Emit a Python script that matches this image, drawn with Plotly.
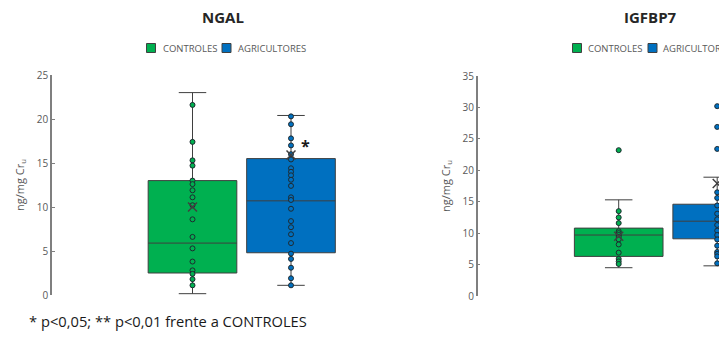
import plotly.graph_objects as go

# ---------------- data ----------------
groups = ["CONTROLES", "AGRICULTORES"]
colors = ["#00B050", "#0070C0"]

# NGAL (ng/mg Cr_u)
ngal_q1 = [2.5, 4.8]
ngal_median = [5.9, 10.7]
ngal_q3 = [13.0, 15.5]
ngal_low = [0.15, 1.1]
ngal_high = [23.0, 20.4]
ngal_mean = [10.0, 15.9]
ngal_pts_ctrl = [21.6, 17.4, 15.3, 14.7, 13.0, 12.6, 11.9, 11.1, 10.2, 8.6,
                 6.6, 5.3, 3.8, 2.8, 2.4, 1.8, 1.1]
ngal_pts_agri = [20.3, 19.4, 17.8, 17.0, 16.0, 15.4, 14.4, 14.0, 13.6, 13.1,
                 12.4, 11.1, 10.8, 9.8, 8.4, 7.7, 6.9, 5.9, 4.7, 4.1, 3.1, 1.9, 1.1]

# IGFBP7 (ng/mg Cr_u)
igf_q1 = [6.3, 9.1]
igf_median = [9.7, 11.9]
igf_q3 = [10.8, 14.6]
igf_low = [4.5, 4.8]
igf_high = [15.3, 18.9]
igf_mean = [9.5, 17.9]
igf_pts_ctrl = [23.2, 13.5, 12.5, 11.6, 10.3, 10.0, 9.7, 9.4, 9.0, 8.2,
                6.9, 5.9, 5.5, 5.1]
igf_pts_agri = [30.2, 26.9, 23.4, 16.5, 15.6, 14.4, 13.1, 12.2, 11.3, 10.4,
                9.7, 9.0, 8.0, 7.0, 6.7, 6.3, 5.2]

titles = ["NGAL", "IGFBP7"]
y_title = "ng/mg Cr<sub>u</sub>"
footnote = "* p<0,05; ** p<0,01 frente a CONTROLES"

# ---------------- layout helpers (pixels) ----------------
OFF = 8                      # default page body margin
FW, FH = 727 - OFF, 339 - OFF
PX_PER_UNIT = 98.5
BOX_W = 0.9

def xp(px):
    return (px - OFF) / FW

def yp(py):
    return 1 - (py - OFF) / FH

def xr(axis_px, center_px, right_px):
    return [(axis_px - center_px) / PX_PER_UNIT, (right_px - center_px) / PX_PER_UNIT]

fig = go.Figure()

AXIS_COLOR = "#7f7f7f"
TXT = "#595959"
LINE_C = "#3f3f3f"
FONT = "Open Sans, Arial"

def add_panel(q1, med, q3, lo, hi, mean, pts, xa, ya):
    for i in range(2):
        fig.add_trace(go.Box(
            x=[i], q1=[q1[i]], median=[med[i]], q3=[q3[i]],
            lowerfence=[lo[i]], upperfence=[hi[i]],
            width=BOX_W, whiskerwidth=0.31,
            fillcolor=colors[i], line=dict(color=LINE_C, width=1),
            name=groups[i], xaxis=xa, yaxis=ya,
            showlegend=False, hoverinfo="skip",
        ))
    for i in range(2):
        fig.add_trace(go.Scatter(
            x=[i] * len(pts[i]), y=pts[i], mode="markers",
            marker=dict(size=5, color=colors[i], line=dict(color="#1f2a30", width=1)),
            xaxis=xa, yaxis=ya, showlegend=False, hoverinfo="skip",
        ))
        fig.add_trace(go.Scatter(
            x=[i], y=[mean[i]], mode="markers",
            marker=dict(symbol="x-thin-open", size=9, color="#404040",
                        line=dict(color="#404040", width=1.5)),
            xaxis=xa, yaxis=ya, showlegend=False, hoverinfo="skip",
        ))

add_panel(ngal_q1, ngal_median, ngal_q3, ngal_low, ngal_high, ngal_mean,
          [ngal_pts_ctrl, ngal_pts_agri], "x", "y")
add_panel(igf_q1, igf_median, igf_q3, igf_low, igf_high, igf_mean,
          [igf_pts_ctrl, igf_pts_agri], "x2", "y2")

yaxis_common = dict(
    showline=True, linecolor=AXIS_COLOR, linewidth=1.5,
    ticks="inside", ticklen=3, tickcolor=AXIS_COLOR, tickwidth=1,
    showgrid=False, zeroline=False, dtick=5, automargin=False,
    tickfont=dict(family=FONT, size=10, color=TXT),
    title=dict(text=y_title, font=dict(family=FONT, size=11, color=TXT), standoff=10),
)
xaxis_common = dict(visible=False, showgrid=False, zeroline=False, automargin=False)

fig.update_layout(
    width=FW, height=FH,
    margin=dict(l=0, r=0, t=0, b=0, autoexpand=False),
    paper_bgcolor="white", plot_bgcolor="white",
    xaxis=dict(domain=[xp(52), xp(431)], range=xr(52, 192.5, 431), anchor="y", **xaxis_common),
    yaxis=dict(domain=[yp(295), yp(75)], range=[0, 25], anchor="x", **yaxis_common),
    xaxis2=dict(domain=[xp(477.7), 1.0], range=xr(477.7, 618.7, 727), anchor="y2", **xaxis_common),
    yaxis2=dict(domain=[yp(296), yp(76)], range=[0, 35], anchor="x2", **yaxis_common),
    showlegend=False,
)

# titles
for t, cx in zip(titles, [223, 650]):
    fig.add_annotation(text="<b>" + t + "</b>", x=xp(cx), y=yp(17), xref="paper", yref="paper",
                       xanchor="center", yanchor="middle", showarrow=False,
                       font=dict(family=FONT, size=15, color="#262626"))

# legends (swatch + label) for both panels
legend_pos = [[(151, 160.5), (226.5, 235.7)], [(577, 585.7), (652.5, 661.3)]]
for panel in legend_pos:
    for i, (sx, tx) in enumerate(panel):
        fig.add_shape(type="rect", xref="paper", yref="paper",
                      x0=xp(sx - 4.5), x1=xp(sx + 4.5), y0=yp(52.5), y1=yp(43.5),
                      line=dict(color="#404040", width=1), fillcolor=colors[i])
        fig.add_annotation(text=groups[i], x=xp(tx), y=yp(48), xref="paper", yref="paper",
                           xanchor="left", yanchor="middle", showarrow=False,
                           font=dict(family=FONT, size=9.5, color=TXT))

fig.add_annotation(text=footnote, x=xp(27), y=yp(321), xref="paper", yref="paper",
                   xanchor="left", yanchor="middle", showarrow=False,
                   font=dict(family=FONT, size=14.7, color="#1a1a1a"))
fig.add_annotation(text="<b>*</b>", x=1.15, y=ngal_mean[1] + 1.0, xref="x", yref="y",
                   showarrow=False, font=dict(family=FONT, size=16, color="#1a1a1a"))

fig.write_html("out.html")
